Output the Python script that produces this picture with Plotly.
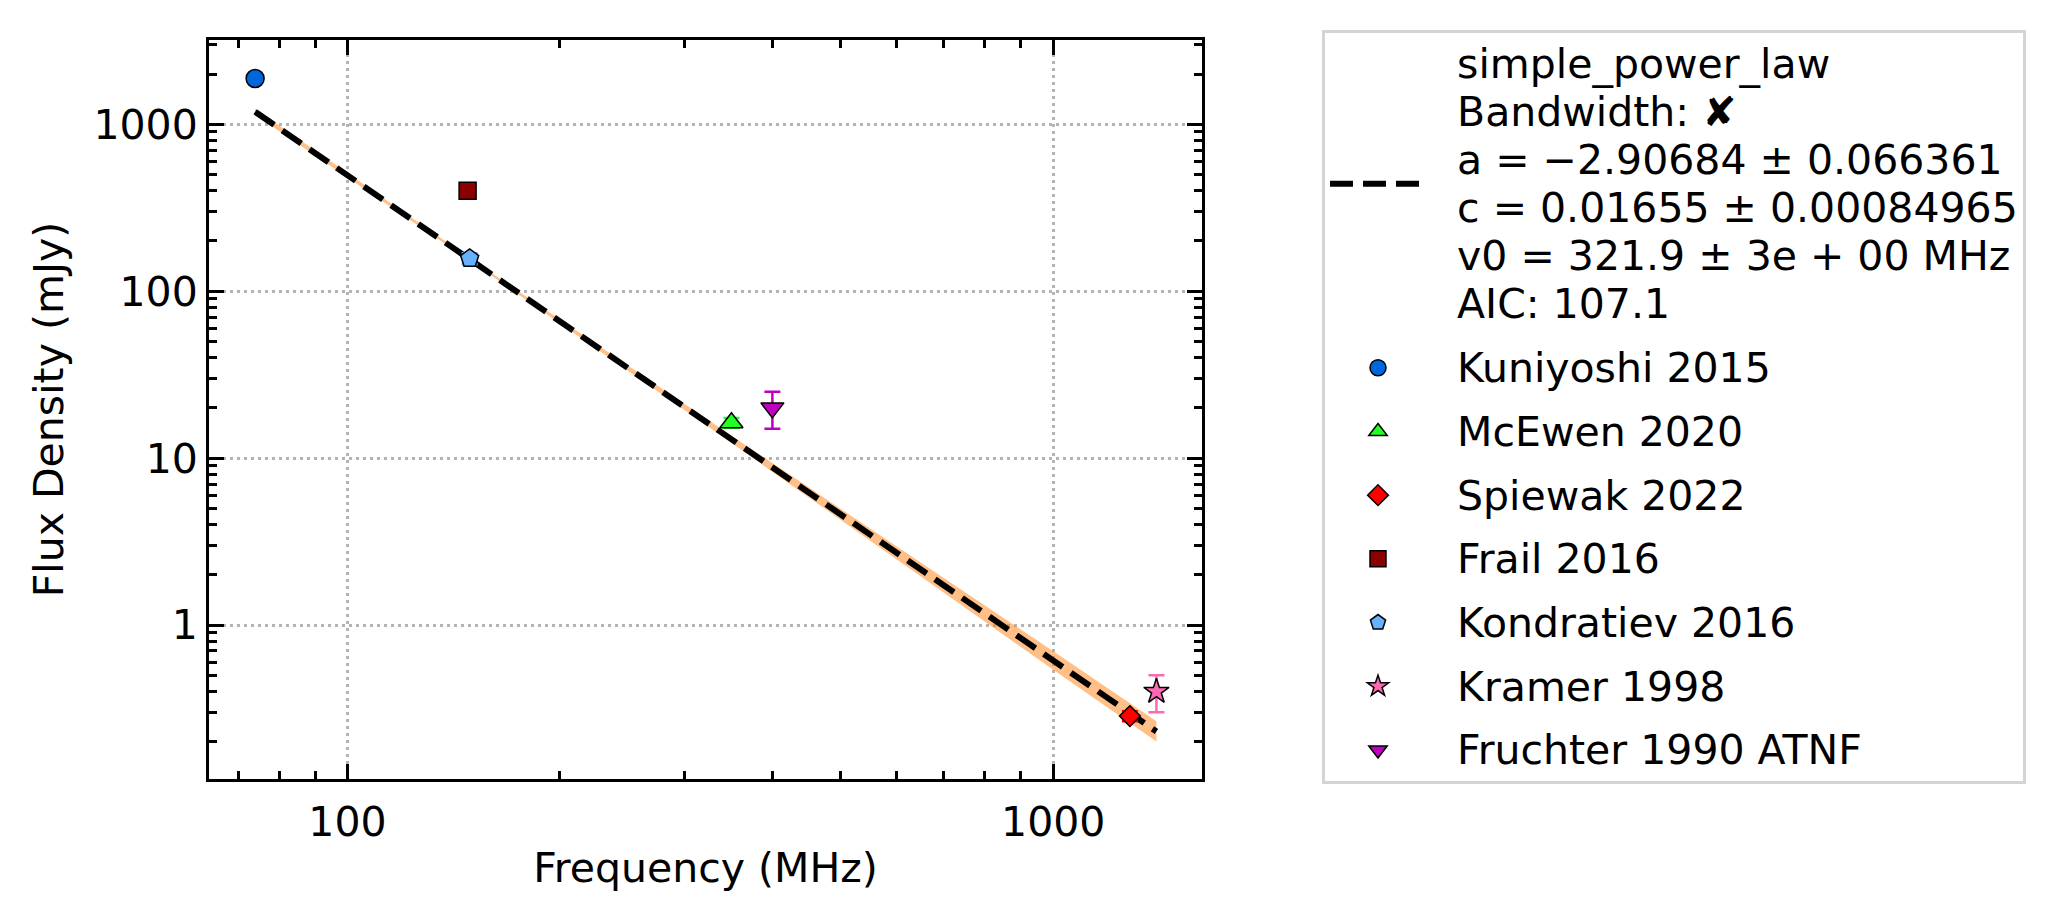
import plotly.graph_objects as go

# ---- data ----
labels = ["Kuniyoshi 2015", "McEwen 2020", "Spiewak 2022", "Frail 2016",
          "Kondratiev 2016", "Kramer 1998", "Fruchter 1990 ATNF"]
freqs = [74, 350, 1284, 148, 149, 1400, 400]          # MHz
fluxes = [1880, 16.3, 0.285, 400, 157, 0.40, 20]       # mJy
errors = [100, 1.1, 0.02, 30, 12, 0.10, 5]             # mJy

# fitted model (simple power law) and its uncertainty band
fit_freq = [74, 150, 350, 700, 1000, 1400]
fit_flux = [1188, 152.3, 12.98, 1.731, 0.6133, 0.2306]
band_upper = [1238, 154.8, 13.64, 1.92, 0.696, 0.265]
band_lower = [1140, 149.9, 12.35, 1.56, 0.540, 0.2008]

fit_lines = ["simple_power_law",
             "Bandwidth: \u2718",
             "a = \u22122.90684 \u00b1 0.066361",
             "c = 0.01655 \u00b1 0.00084965",
             "v0 = 321.9 \u00b1 3e + 00 MHz",
             "AIC: 107.1"]

# ---- styles ----
colors = ["#0066DD", "#22FF22", "#FF0000", "#8B0000", "#66B2FF", "#FF69B4", "#BF00BF"]
symbols = ["circle", "triangle-up", "diamond", "square", "pentagon", "star", "triangle-down"]
sizes = [18, 20, 16, 17, 19, 19, 20]

FONT = "DejaVu Sans"
PAD = "\u00a0" * 2


def legend_text(line):
    return '<span style="font-size:41px">' + PAD + line + "</span>"


fig = go.Figure()

# uncertainty band
fig.add_trace(go.Scatter(x=fit_freq, y=band_upper, mode="lines",
                         line=dict(width=0, color="rgba(255,127,14,0)"),
                         showlegend=False, hoverinfo="skip"))
fig.add_trace(go.Scatter(x=fit_freq, y=band_lower, mode="lines",
                         line=dict(width=0, color="rgba(255,127,14,0)"),
                         fill="tonexty", fillcolor="rgba(255,127,14,0.5)",
                         showlegend=False, hoverinfo="skip"))

# fit line
fig.add_trace(go.Scatter(x=fit_freq, y=fit_flux, mode="lines",
                         line=dict(color="black", width=6, dash="23px,10px"),
                         name="<br>".join(legend_text(l) for l in fit_lines),
                         legendgroup="fit"))

# data points
for lab, f, s, e, c, sym, sz in zip(labels, freqs, fluxes, errors, colors, symbols, sizes):
    fig.add_trace(go.Scatter(
        x=[f], y=[s], mode="markers", name=legend_text(lab), legendgroup=lab,
        marker=dict(symbol=sym, size=sz, color=c, line=dict(color="black", width=1.5)),
        error_y=dict(type="data", array=[e], color=c, thickness=2.5, width=8),
    ))

axis_common = dict(
    type="log", showline=True, linecolor="black", linewidth=3, mirror="allticks",
    ticks="inside", ticklen=15, tickwidth=3, tickcolor="black",
    showgrid=True, gridcolor="#b4b4b4", gridwidth=2.5, griddash="3px,4px",
    zeroline=False, tickfont=dict(family=FONT, size=41, color="black"),
)

fig.update_xaxes(
    **axis_common,
    ticklabelstandoff=5,
    range=[1.8039, 3.2107],
    tickmode="array", tickvals=[100, 1000], ticktext=["100", "1000"],
    minor=dict(ticks="inside", ticklen=8, tickwidth=2.5, tickcolor="black", showgrid=False,
               tickmode="array", tickvals=[70, 80, 90, 200, 300, 400, 500, 600, 700, 800, 900]),
    title=dict(text="Frequency (MHz)", font=dict(family=FONT, size=41, color="black"), standoff=9),
)
fig.update_yaxes(
    **axis_common,
    ticklabelstandoff=0,
    range=[-0.922, 3.5048],
    tickmode="array", tickvals=[1, 10, 100, 1000], ticktext=["1", "10", "100", "1000"],
    minor=dict(ticks="inside", ticklen=8, tickwidth=2.5, tickcolor="black", showgrid=False,
               tickmode="array",
               tickvals=[0.2, 0.3, 0.4, 0.5, 0.6, 0.7, 0.8, 0.9,
                         2, 3, 4, 5, 6, 7, 8, 9,
                         20, 30, 40, 50, 60, 70, 80, 90,
                         200, 300, 400, 500, 600, 700, 800, 900, 2000, 3000]),
    title=dict(text="Flux Density (mJy)", font=dict(family=FONT, size=41, color="black"), standoff=18),
)

fig.update_layout(
    width=2058, height=924,
    margin=dict(l=209, r=856, t=40, b=145, autoexpand=False),
    paper_bgcolor="white", plot_bgcolor="white",
    font=dict(family=FONT, size=41, color="black"),
    showlegend=True,
    legend=dict(
        xref="container", yref="container", x=1322 / 2058, y=1 - 30 / 924,
        xanchor="left", yanchor="top",
        bgcolor="white", bordercolor="#d4d4d4", borderwidth=3,
        font=dict(family=FONT, size=37, color="black"),
        itemwidth=96, tracegroupgap=12.6, traceorder="grouped",
        itemsizing="trace", maxheight=920,
    ),
)

fig.write_html("out.html")
